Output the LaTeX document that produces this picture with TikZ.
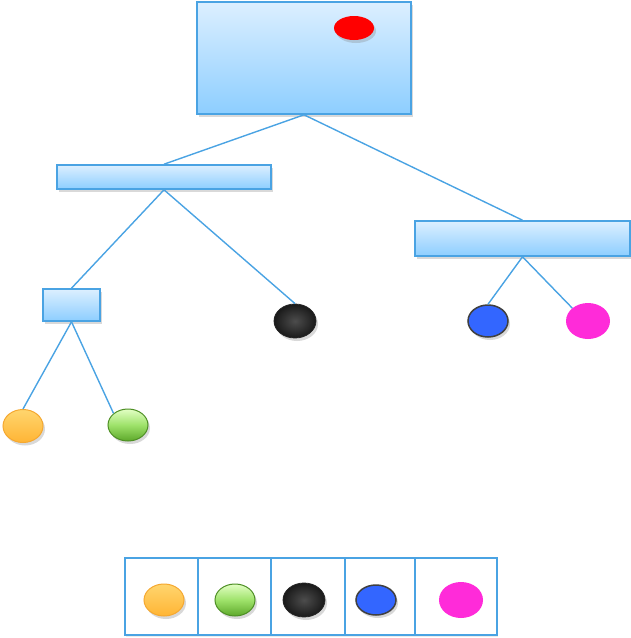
\documentclass[tikz,border=0pt]{standalone}
\usetikzlibrary{shadows,shapes.geometric}
\definecolor{edgeblue}{HTML}{4AA3E3}
\definecolor{boxtop}{HTML}{DCEFFF}
\definecolor{boxbot}{HTML}{8DCEFF}
\definecolor{ballred}{HTML}{FF0000}
\definecolor{ballblue}{HTML}{3366FF}
\definecolor{ballpink}{HTML}{FF2BD9}
\definecolor{orangetop}{HTML}{FFD56E}
\definecolor{orangebot}{HTML}{FFB535}
\definecolor{orangerim}{HTML}{F5A830}
\definecolor{greentop}{HTML}{E2FFC4}
\definecolor{greenmid}{HTML}{9EE26A}
\definecolor{greenbot}{HTML}{5DA82A}
\definecolor{greenrim}{HTML}{4E8F25}
\tikzset{
  treebox/.style={draw=edgeblue, line width=1.6pt, top color=boxtop, bottom color=boxbot,
    drop shadow={shadow xshift=1.5pt, shadow yshift=-2.5pt, opacity=0.3}},
  link/.style={draw=edgeblue, line width=1.4pt},
  cell/.style={draw=edgeblue, line width=1.4pt, fill=white,
    drop shadow={shadow xshift=1pt, shadow yshift=-1.5pt, opacity=0.15}},
  ballshadow/.style={drop shadow={shadow xshift=2pt, shadow yshift=-3pt, opacity=0.3}},
  redball/.style={ellipse, fill=ballred, minimum width=40pt, minimum height=24pt, inner sep=0pt, ballshadow},
  orangeball/.style={ellipse, draw=orangerim, line width=1pt, top color=orangetop, bottom color=orangebot,
    minimum width=40pt, minimum height=33pt, inner sep=0pt, ballshadow},
  greenball/.style={ellipse, draw=greenrim, line width=1pt, top color=greentop, bottom color=greenbot,
    middle color=greenmid, minimum width=40pt, minimum height=32pt, inner sep=0pt, ballshadow},
  blackball/.style={ellipse, draw=black!85, line width=0.8pt, inner color=black!70, outer color=black!90,
    minimum width=42pt, minimum height=34pt, inner sep=0pt, ballshadow},
  blueball/.style={ellipse, draw=black!75, line width=1.5pt, fill=ballblue,
    minimum width=40pt, minimum height=32pt, inner sep=0pt, ballshadow},
  pinkball/.style={ellipse, fill=ballpink, minimum width=44pt, minimum height=36pt, inner sep=0pt},
}
\begin{document}
\begin{tikzpicture}[x=1pt, y=-1pt]
  \useasboundingbox (0,0) rectangle (631,638);

  % tree boxes
  \node[treebox, minimum width=214pt, minimum height=112pt, inner sep=0pt] (root) at (304,58) {};
  \node[treebox, minimum width=214pt, minimum height=24pt, inner sep=0pt] (left) at (164,177) {};
  \node[treebox, minimum width=215pt, minimum height=35pt, inner sep=0pt] (right) at (522.5,238.5) {};
  \node[treebox, minimum width=57pt, minimum height=32pt, inner sep=0pt] (small) at (71.5,305) {};

  % marker in the root box
  \node[redball] (red) at (354,28) {};

  % leaves
  \node[blackball] (black) at (295,321) {};
  \node[blueball] (blue) at (488,321) {};
  \node[pinkball] (pink) at (588,321) {};
  \node[orangeball] (orange) at (23,426) {};
  \node[greenball] (green) at (128,425) {};

  % connectors
  \draw[link] (root.south) -- (left.north);
  \draw[link] (root.south) -- (right.north);
  \draw[link] (left.south) -- (small.north);
  \draw[link] (left.south) -- (black.north);
  \draw[link] (right.south) -- (blue.north);
  \draw[link] (right.south) -- (pink.north west);
  \draw[link] (small.south) -- (orange.north);
  \draw[link] (small.south) -- (green.north west);

  % legend row
  \node[cell, minimum width=73pt, minimum height=77pt, inner sep=0pt] (c1) at (161.5,596.5) {};
  \node[cell, minimum width=73pt, minimum height=77pt, inner sep=0pt] (c2) at (234.5,596.5) {};
  \node[cell, minimum width=74pt, minimum height=77pt, inner sep=0pt] (c3) at (308,596.5) {};
  \node[cell, minimum width=70pt, minimum height=77pt, inner sep=0pt] (c4) at (380,596.5) {};
  \node[cell, minimum width=82pt, minimum height=77pt, inner sep=0pt] (c5) at (456,596.5) {};
  \node[orangeball, minimum height=32pt] (l1) at (164,600) {};
  \node[greenball] (l2) at (235,600) {};
  \node[blackball] (l3) at (304,600) {};
  \node[blueball, minimum height=30pt] (l4) at (376,600) {};
  \node[pinkball] (l5) at (461,600) {};
\end{tikzpicture}
\end{document}
